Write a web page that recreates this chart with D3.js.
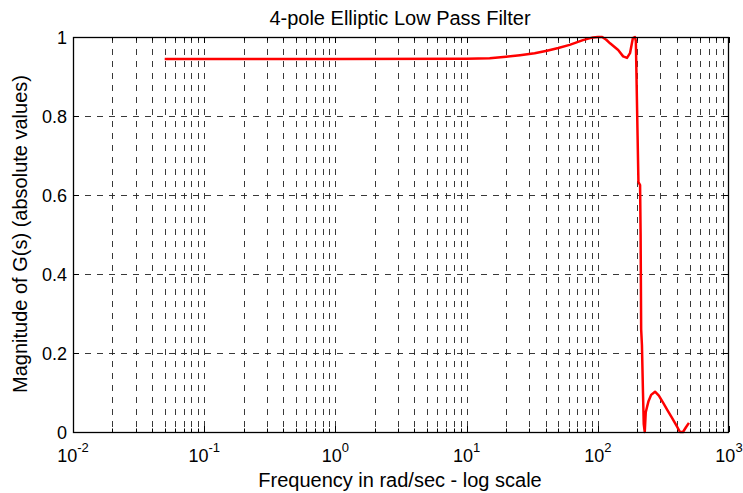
<!DOCTYPE html>
<html><head><meta charset="utf-8">
<script src="https://cdn.jsdelivr.net/npm/d3@7"></script>
<style>body{margin:0;background:#fff;} text{font-family:"Liberation Sans",Arial,sans-serif;fill:#000;}</style>
</head><body><svg id="c" width="743" height="493"></svg>
<script>
const title = "4-pole Elliptic Low Pass Filter";
const xLabel = "Frequency in rad/sec - log scale";
const yLabel = "Magnitude of G(s) (absolute values)";
const xTickExps = [-2, -1, 0, 1, 2, 3];
const yTicks = [0, 0.2, 0.4, 0.6, 0.8, 1];
const freq = [0.05, 0.1, 1, 10, 15, 20, 25.5, 33, 41, 50, 61, 77, 92, 100, 108, 116, 124, 143, 156, 167, 176, 185, 192, 195, 201, 204, 210, 212, 214, 217, 221, 224, 228, 232, 236, 243, 255, 273, 292, 316, 340, 366, 395, 423, 446, 470, 495];
const mag  = [0.944, 0.944, 0.944, 0.945, 0.946, 0.95, 0.954, 0.959, 0.965, 0.972, 0.98, 0.992, 0.999, 1.0, 1.0, 0.993, 0.984, 0.967, 0.951, 0.947, 0.959, 0.997, 1.0, 0.99, 0.75, 0.633, 0.625, 0.5, 0.26, 0.22, 0.1, 0.02, 0.0, 0.05, 0.06, 0.077, 0.094, 0.102, 0.092, 0.073, 0.055, 0.037, 0.018, 0.0, 0.0, 0.012, 0.023];

const svg = d3.select("#c");
const L = 73, R = 729, T = 37, B = 432;
const x = d3.scaleLog().domain([1e-2, 1e3]).range([L, R]);
const y = d3.scaleLinear().domain([0, 1]).range([B, T]);

const vgrid = [];
for (let e = -2; e < 3; e++) for (let m = 1; m <= 9; m++) { const v = m * Math.pow(10, e); if (v > 1e-2) vgrid.push(v); }
const g = svg.append("g");
g.selectAll("line.vg").data(vgrid).enter().append("line")
  .attr("x1", d => Math.round(x(d)) + 0.5).attr("x2", d => Math.round(x(d)) + 0.5)
  .attr("y1", T).attr("y2", B)
  .attr("stroke", "#222").attr("stroke-width", 0.9).attr("stroke-dasharray", "6,6");
g.selectAll("line.hg").data(yTicks.filter(d => d > 0 && d < 1)).enter().append("line")
  .attr("y1", d => Math.round(y(d)) + 0.5).attr("y2", d => Math.round(y(d)) + 0.5)
  .attr("x1", L).attr("x2", R)
  .attr("stroke", "#222").attr("stroke-width", 0.9).attr("stroke-dasharray", "6,6");

const allX = vgrid.concat([1e3]);
[B, T].forEach((yy, i) => {
  g.selectAll(null).data(allX).enter().append("line")
    .attr("x1", d => Math.round(x(d)) + 0.5).attr("x2", d => Math.round(x(d)) + 0.5)
    .attr("y1", yy).attr("y2", d => { const major = Math.abs(Math.log10(d) - Math.round(Math.log10(d))) < 1e-9; const len = major ? 6 : 3.5; return i === 0 ? yy - len : yy + len; })
    .attr("stroke", "#000").attr("stroke-width", 1);
});
[L, R].forEach((xx, i) => {
  g.selectAll(null).data(yTicks).enter().append("line")
    .attr("y1", d => Math.round(y(d)) + 0.5).attr("y2", d => Math.round(y(d)) + 0.5)
    .attr("x1", xx).attr("x2", i === 0 ? xx + 6 : xx - 6)
    .attr("stroke", "#000").attr("stroke-width", 1);
});

const line = d3.line().x((d, i) => x(freq[i])).y((d, i) => y(mag[i]));
svg.append("path").datum(mag).attr("d", line)
  .attr("fill", "none").attr("stroke", "#ff0000").attr("stroke-width", 2.5).attr("stroke-linejoin", "round");

svg.append("rect").attr("x", L + 0.5).attr("y", T + 0.5).attr("width", R - L - 1).attr("height", B - T)
  .attr("fill", "none").attr("stroke", "#000").attr("stroke-width", 1.3);

svg.selectAll("text.yt").data(yTicks).enter().append("text")
  .attr("x", L - 6).attr("y", d => y(d) + 6.5).attr("text-anchor", "end")
  .style("font-size", "18px").text(d => d3.format("")(d));

xTickExps.forEach(e => {
  const t = svg.append("text").attr("x", x(Math.pow(10, e))).attr("y", 462)
    .attr("text-anchor", "middle").style("font-size", "18px");
  t.append("tspan").text("10");
  t.append("tspan").attr("dy", -10).style("font-size", "13px").text(String(e));
});

svg.append("text").attr("x", 400).attr("y", 25).attr("text-anchor", "middle").style("font-size", "20px").text(title);
svg.append("text").attr("x", 400).attr("y", 487).attr("text-anchor", "middle").style("font-size", "20px").text(xLabel);
svg.append("text").attr("transform", "translate(27,234) rotate(-90)").attr("text-anchor", "middle").style("font-size", "20px").text(yLabel);
</script></body></html>
